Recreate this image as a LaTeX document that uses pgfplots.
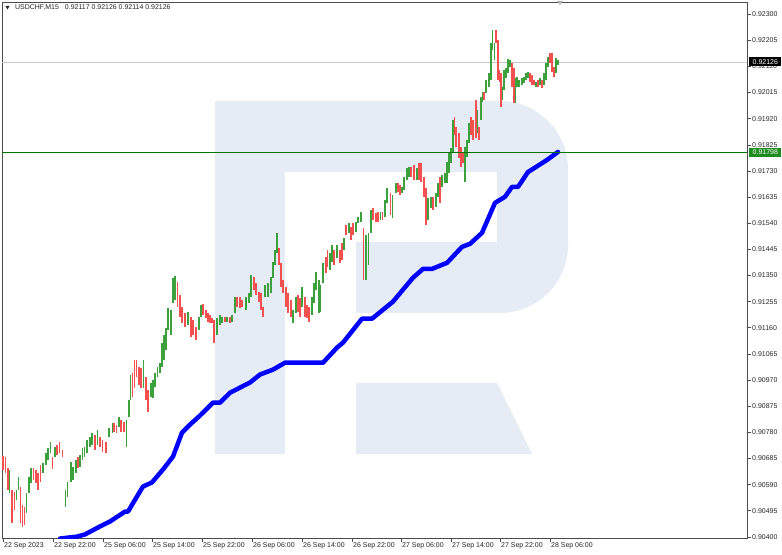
\documentclass[border=0pt]{standalone}
\usepackage{pgfplots}
\pgfplotsset{compat=1.18}
\usepackage{pgfplotstable}
\usepackage{fontspec}
\setmainfont{Liberation Sans}

\definecolor{wm}{RGB}{230,236,245}
\definecolor{cgreen}{RGB}{60,160,60}
\definecolor{cred}{RGB}{245,80,80}
\definecolor{lvl}{RGB}{0,115,0}
\definecolor{lvlbox}{RGB}{30,140,30}
\definecolor{bidline}{RGB}{200,200,200}

% candles: x position, high, low
\pgfplotstableread{
x hi lo
9.5 0.90643 0.90560
16.5 0.90571 0.90534
18.5 0.90618 0.90571
26.5 0.90560 0.90487
29 0.90618 0.90560
31 0.90651 0.90596
43 0.90669 0.90633
46 0.90705 0.90662
48 0.90723 0.90680
50.5 0.90745 0.90705
55 0.90727 0.90691
65.5 0.90571 0.90509
67.5 0.90600 0.90545
71 0.90673 0.90600
73 0.90654 0.90607
76 0.90680 0.90633
80 0.90698 0.90654
82.5 0.90723 0.90680
84.5 0.90727 0.90691
87 0.90752 0.90705
90 0.90763 0.90727
92 0.90778 0.90734
97.5 0.90789 0.90734
109 0.90796 0.90763
112.5 0.90814 0.90778
119 0.90836 0.90800
126.5 0.90825 0.90727
129 0.90898 0.90836
130.5 0.90989 0.90898
143.5 0.91043 0.90941
151 0.90960 0.90909
153 0.90970 0.90905
155 0.90996 0.90945
157.5 0.91018 0.90981
160 0.91032 0.90996
162 0.91105 0.91018
164 0.91134 0.91043
166 0.91159 0.91079
168 0.91232 0.91152
171 0.91225 0.91134
173 0.91341 0.91250
175 0.91348 0.91261
188 0.91218 0.91170
199 0.91199 0.91152
201 0.91243 0.91199
217 0.91196 0.91134
220 0.91207 0.91170
222 0.91199 0.91178
227 0.91199 0.91181
232 0.91207 0.91181
235 0.91272 0.91214
246 0.91272 0.91225
249 0.91287 0.91250
251 0.91352 0.91272
265 0.91316 0.91272
268 0.91323 0.91272
271 0.91345 0.91287
273 0.91399 0.91341
275 0.91443 0.91388
277 0.91504 0.91432
293 0.91225 0.91178
296 0.91272 0.91214
302 0.91308 0.91236
312 0.91272 0.91207
314 0.91323 0.91250
316 0.91363 0.91297
319 0.91334 0.91214
320.5 0.91316 0.91218
323 0.91396 0.91323
330 0.91432 0.91370
332 0.91461 0.91399
337 0.91461 0.91414
344 0.91486 0.91443
349 0.91541 0.91504
356 0.91544 0.91508
358 0.91563 0.91541
361 0.91581 0.91544
366 0.91497 0.91334
368.5 0.91504 0.91388
371 0.91588 0.91504
380.5 0.91581 0.91552
385 0.91624 0.91563
387 0.91668 0.91613
392.5 0.91643 0.91559
396 0.91686 0.91650
402 0.91672 0.91650
404 0.91708 0.91661
407 0.91741 0.91697
409 0.91744 0.91708
417 0.91741 0.91697
428 0.91632 0.91552
431 0.91635 0.91595
436 0.91650 0.91599
438 0.91686 0.91635
442 0.91715 0.91672
445 0.91722 0.91686
447 0.91762 0.91686
449 0.91799 0.91722
451 0.91813 0.91759
453 0.91915 0.91795
465 0.91817 0.91690
467 0.91842 0.91781
469 0.91904 0.91831
477.5 0.91951 0.91868
481 0.91999 0.91915
482.5 0.92017 0.91980
486 0.92060 0.92013
489 0.92086 0.92035
491 0.92195 0.92060
492.5 0.92242 0.92169
494.5 0.92195 0.92133
502.5 0.92035 0.91988
504 0.92097 0.92024
506 0.92104 0.92068
508 0.92137 0.92086
510 0.92133 0.92108
515.5 0.92068 0.91977
517 0.92071 0.92035
519 0.92060 0.92035
522 0.92068 0.92042
524 0.92071 0.92049
526 0.92086 0.92060
528 0.92089 0.92068
536 0.92053 0.92035
540 0.92068 0.92042
544 0.92086 0.92042
546 0.92122 0.92060
548 0.92144 0.92108
556 0.92140 0.92086
558 0.92133 0.92115
}\greencandles

\pgfplotstableread{
x hi lo
3 0.90694 0.90643
5.5 0.90691 0.90633
8 0.90651 0.90571
12 0.90571 0.90451
14.5 0.90564 0.90498
20.5 0.90582 0.90451
22.7 0.90516 0.90436
24.5 0.90509 0.90444
33.5 0.90651 0.90607
36 0.90643 0.90596
38 0.90633 0.90571
40.5 0.90662 0.90600
52.5 0.90691 0.90647
57 0.90734 0.90698
59.5 0.90745 0.90705
62.5 0.90716 0.90691
78 0.90691 0.90651
95 0.90771 0.90716
100 0.90763 0.90727
102.5 0.90752 0.90709
106 0.90745 0.90705
114 0.90814 0.90782
116.5 0.90807 0.90778
121 0.90825 0.90782
124 0.90818 0.90782
132.5 0.90996 0.90909
134.5 0.91043 0.90941
136.5 0.91043 0.90981
139 0.91018 0.90952
141 0.91014 0.90941
146 0.90981 0.90898
148 0.90934 0.90854
177.5 0.91327 0.91236
180 0.91279 0.91199
182 0.91236 0.91178
185 0.91214 0.91163
191 0.91199 0.91127
193 0.91188 0.91134
196 0.91163 0.91116
203 0.91247 0.91207
206 0.91225 0.91196
208 0.91214 0.91181
210 0.91207 0.91178
212 0.91196 0.91178
214 0.91188 0.91105
225 0.91199 0.91181
230 0.91199 0.91178
237 0.91272 0.91236
240 0.91272 0.91232
242 0.91261 0.91236
254 0.91345 0.91297
256 0.91323 0.91279
259 0.91290 0.91254
261 0.91287 0.91225
263 0.91236 0.91199
279 0.91450 0.91388
281 0.91396 0.91308
283 0.91334 0.91287
286 0.91308 0.91236
288 0.91287 0.91214
291 0.91261 0.91199
298 0.91279 0.91218
300 0.91268 0.91199
305 0.91272 0.91199
307 0.91243 0.91196
309 0.91236 0.91181
326 0.91417 0.91359
327.5 0.91443 0.91381
334 0.91443 0.91388
340 0.91443 0.91396
342 0.91468 0.91406
346 0.91534 0.91497
351 0.91526 0.91479
353 0.91541 0.91497
363.5 0.91523 0.91334
373 0.91595 0.91552
376 0.91577 0.91544
378 0.91581 0.91544
382.5 0.91581 0.91552
390.5 0.91650 0.91570
398 0.91686 0.91653
400 0.91679 0.91643
411 0.91744 0.91708
414 0.91752 0.91697
419 0.91759 0.91697
421 0.91759 0.91690
424 0.91708 0.91635
426 0.91668 0.91534
433 0.91635 0.91588
440 0.91708 0.91613
454.5 0.91926 0.91861
456 0.91890 0.91817
459 0.91868 0.91777
461 0.91817 0.91744
463 0.91795 0.91759
471 0.91926 0.91861
473 0.91915 0.91842
476 0.91988 0.91850
479 0.91890 0.91842
484 0.92017 0.91988
496 0.92242 0.92195
498 0.92206 0.92060
499.5 0.92097 0.92053
501 0.92086 0.91962
512 0.92122 0.92035
514 0.92104 0.91977
530 0.92086 0.92053
532 0.92079 0.92042
534 0.92060 0.92042
538 0.92060 0.92035
542 0.92060 0.92031
550 0.92158 0.92122
552 0.92158 0.92089
554 0.92108 0.92071
}\redcandles

\begin{document}
\begin{tikzpicture}
\useasboundingbox[fill=white] (0,0) rectangle (782bp,555bp);
\begin{axis}[
  at={(2bp,17bp)}, anchor=south west,
  scale only axis, width=745bp, height=536bp,
  xmin=2, xmax=747, ymin=0.90396, ymax=0.92344,
  clip mode=individual,
  axis line style={draw=black!70, line width=0.8bp},
  tick align=outside, major tick length=3.5bp,
  tick style={draw=black!70, line width=0.6bp},
  xtick pos=left, ytick pos=right, yticklabel pos=right,
  xtick={3,53,103,152,202,252,302,352,401,451,500,550},
  xticklabels={22 Sep 2023,22 Sep 22:00,25 Sep 06:00,25 Sep 14:00,25 Sep 22:00,26 Sep 06:00,26 Sep 14:00,26 Sep 22:00,27 Sep 06:00,27 Sep 14:00,27 Sep 22:00,28 Sep 06:00},
  ytick={0.90400,0.90495,0.90590,0.90685,0.90780,0.90875,0.90970,0.91065,0.91160,0.91255,0.91350,0.91445,0.91540,0.91635,0.91730,0.91825,0.91920,0.92015,0.92110,0.92205,0.92300},
  yticklabels={0.90400,0.90495,0.90590,0.90685,0.90780,0.90875,0.90970,0.91065,0.91160,0.91255,0.91350,0.91445,0.91540,0.91635,0.91730,0.91825,0.91920,0.92015,0.92110,0.92205,0.92300},
  xticklabel style={font=\fontsize{7}{8}\selectfont, text=black!85, anchor=north west, inner sep=0pt, xshift=1bp, yshift=-1bp},
  yticklabel style={font=\fontsize{7}{8}\selectfont, text=black!85, anchor=west, inner sep=0pt, xshift=1.5bp},
]
% watermark
\fill[wm] (axis cs:215,0.90702) rectangle (axis cs:285,0.91984);
\fill[wm] (axis cs:215,0.91726) rectangle (axis cs:500,0.91984);
\fill[wm, rounded corners=68bp] (axis cs:420,0.91214) rectangle (axis cs:568,0.91984);
\fill[wm] (axis cs:356,0.91214) rectangle (axis cs:500,0.91472);
\fill[white] (axis cs:285,0.91472) rectangle (axis cs:497,0.91726);
\fill[wm] (axis cs:356,0.90702) -- (axis cs:356,0.90960) -- (axis cs:497,0.90960) -- (axis cs:532,0.90702) -- cycle;

% bid line
\addplot[bidline, line width=0.8bp] coordinates {(2,0.92126) (747,0.92126)};

% candles
\addplot[draw=none, mark=none, error bars/.cd, y dir=minus, y explicit, error mark=none,
  error bar style={line width=1.3bp, draw=cgreen}]
  table[x=x, y=hi, y error minus expr=\thisrow{hi}-\thisrow{lo}] {\greencandles};
\addplot[draw=none, mark=none, error bars/.cd, y dir=minus, y explicit, error mark=none,
  error bar style={line width=1.3bp, draw=cred}]
  table[x=x, y=hi, y error minus expr=\thisrow{hi}-\thisrow{lo}] {\redcandles};

% moving average
\addplot[blue, line width=4.5bp, line join=round, line cap=round] coordinates {
(60,0.90394) (77,0.90401) (85,0.90409) (100,0.90438) (110,0.90456) (125,0.90492)
(128,0.90492) (137,0.90547) (143,0.90583) (152,0.90598) (163,0.90645) (173,0.90692)
(182,0.90779) (190,0.90808) (200,0.90841) (213,0.90888) (220,0.90888) (230,0.90924)
(250,0.90961) (260,0.90990) (273,0.91008) (285,0.91033) (323,0.91033) (337,0.91088)
(343,0.91106) (362,0.91193) (372,0.91193) (393,0.91255) (413,0.91342) (423,0.91374)
(432,0.91374) (447,0.91396) (462,0.91454) (470,0.91465) (482,0.91505) (495,0.91614)
(505,0.91636) (512,0.91672) (518,0.91672) (528,0.91726) (547,0.91770) (558,0.91799)
};

% level line
\addplot[lvl, line width=1.2bp] coordinates {(2,0.91798) (747,0.91798)};

\node[fill=black, text=white, anchor=west, inner xsep=3.5bp, inner ysep=0pt, minimum height=9bp,
  font=\fontsize{7}{8}\selectfont] at (axis cs:747,0.92126) [xshift=2bp] {0.92126};
\node[fill=lvlbox, text=white, anchor=west, inner xsep=3.5bp, inner ysep=0pt, minimum height=9bp,
  font=\fontsize{7}{8}\selectfont] at (axis cs:747,0.91798) [xshift=2bp] {0.91798};
\end{axis}
% header
\fill[black!85] (5.5bp,549bp) -- (9.5bp,549bp) -- (7.5bp,545.5bp) -- cycle;
\node[anchor=west, inner sep=0pt, font=\fontsize{7}{8}\selectfont, text=black!85] at (15bp,547.5bp)
  {USDCHF,M15\hspace{6bp}0.92117 0.92126 0.92114 0.92126};
\fill[black!30] (557bp,554bp) -- (563bp,554bp) -- (560bp,550bp) -- cycle;
\end{tikzpicture}
\end{document}
